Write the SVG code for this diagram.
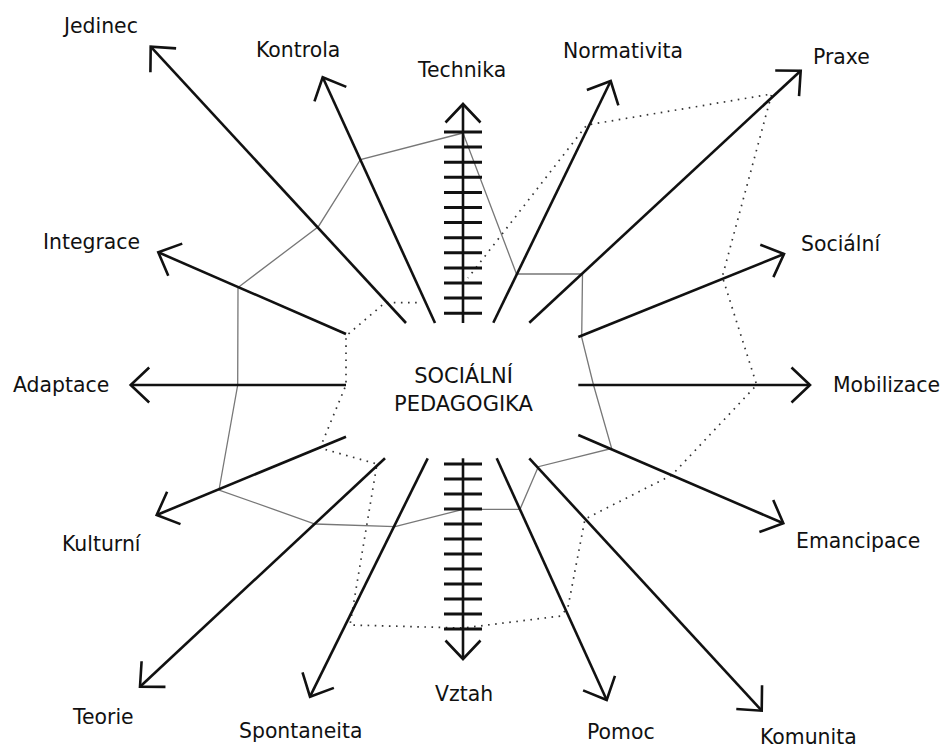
<svg xmlns="http://www.w3.org/2000/svg" width="941" height="751" viewBox="0 0 941 751">
<style>
text{font-family:"DejaVu Sans","Verdana",sans-serif;font-size:20.4px;fill:#111}
.ax{stroke:#111;stroke-width:2.6;fill:none;marker-end:url(#arr)}
.tk{stroke:#111;stroke-width:3}
.gp{stroke:#777;stroke-width:1.3;fill:none}
.dp{stroke:#333;stroke-width:1.7;fill:none;stroke-dasharray:1.6 5.5}
</style>
<defs>
<marker id="arr" markerUnits="userSpaceOnUse" markerWidth="50" markerHeight="50" viewBox="-30 -25 50 50" refX="0" refY="0" orient="auto" overflow="visible">
<path d="M-18.5,-17.5 L0,0 L-18.5,17.5" fill="none" stroke="#111" stroke-width="2.6"/>
</marker>
</defs>
<rect width="941" height="751" fill="#fff"/>
<g id="profiles">
<polygon class="gp" points="463,133 360.5,159.5 318.3,226.7 238,287.5 237.7,385 219,490 315,524 395,526.7 463,509.3 520,509.3 538.3,466.7 611.7,448.5 593.5,385 581.7,337.5 582.5,274 516.5,274"/>
<polyline class="dp" points="416.7,302.7 385,302.7 346,336 346,385 320,448 377,464 350,625 463,628 561,616 568,607 585,519 672,475 756.7,385 722.3,276.7 771.7,94 586.7,125 468,278"/>
</g>
<g id="connectors">
<line class="ax" x1="463" y1="323" x2="463" y2="104"/>
<line class="ax" x1="435" y1="323" x2="322.7" y2="77.3"/>
<line class="ax" x1="406" y1="323" x2="150.7" y2="46.7"/>
<line class="ax" x1="346" y1="334" x2="158.3" y2="252.3"/>
<line class="ax" x1="346" y1="385" x2="130.7" y2="385"/>
<line class="ax" x1="346" y1="436.7" x2="156.7" y2="515"/>
<line class="ax" x1="385" y1="458.3" x2="140" y2="686.7"/>
<line class="ax" x1="427.7" y1="458.3" x2="310" y2="696.7"/>
<line class="ax" x1="463" y1="458.3" x2="463" y2="659"/>
<line class="ax" x1="496.7" y1="458.3" x2="606.7" y2="700"/>
<line class="ax" x1="529.3" y1="458.3" x2="761.7" y2="710.7"/>
<line class="ax" x1="578.3" y1="435" x2="783.3" y2="523.3"/>
<line class="ax" x1="578.3" y1="385" x2="810" y2="385"/>
<line class="ax" x1="578.3" y1="337" x2="784" y2="254"/>
<line class="ax" x1="529.3" y1="322.7" x2="800.7" y2="70.7"/>
<line class="ax" x1="493.3" y1="322.7" x2="610.7" y2="81"/>
<g id="ticks-top">
<line class="tk" x1="444" y1="132" x2="482" y2="132"/>
<line class="tk" x1="444" y1="147.1" x2="482" y2="147.1"/>
<line class="tk" x1="444" y1="162.2" x2="482" y2="162.2"/>
<line class="tk" x1="444" y1="177.3" x2="482" y2="177.3"/>
<line class="tk" x1="444" y1="192.4" x2="482" y2="192.4"/>
<line class="tk" x1="444" y1="207.5" x2="482" y2="207.5"/>
<line class="tk" x1="444" y1="222.6" x2="482" y2="222.6"/>
<line class="tk" x1="444" y1="237.7" x2="482" y2="237.7"/>
<line class="tk" x1="444" y1="252.8" x2="482" y2="252.8"/>
<line class="tk" x1="444" y1="267.9" x2="482" y2="267.9"/>
<line class="tk" x1="444" y1="283" x2="482" y2="283"/>
<line class="tk" x1="444" y1="298.1" x2="482" y2="298.1"/>
<line class="tk" x1="444" y1="313.2" x2="482" y2="313.2"/>
</g>
<g id="ticks-bottom">
<line class="tk" x1="444" y1="464" x2="482" y2="464"/>
<line class="tk" x1="444" y1="479" x2="482" y2="479"/>
<line class="tk" x1="444" y1="494" x2="482" y2="494"/>
<line class="tk" x1="444" y1="509" x2="482" y2="509"/>
<line class="tk" x1="444" y1="524" x2="482" y2="524"/>
<line class="tk" x1="444" y1="539" x2="482" y2="539"/>
<line class="tk" x1="444" y1="554" x2="482" y2="554"/>
<line class="tk" x1="444" y1="569" x2="482" y2="569"/>
<line class="tk" x1="444" y1="584" x2="482" y2="584"/>
<line class="tk" x1="444" y1="599" x2="482" y2="599"/>
<line class="tk" x1="444" y1="614" x2="482" y2="614"/>
<line class="tk" x1="444" y1="629" x2="482" y2="629"/>
</g>
</g>
<g id="center"><text x="463.5" y="383" text-anchor="middle" style="font-size:21px">SOCIÁLNÍ</text><text x="463.5" y="411" text-anchor="middle" style="font-size:21px">PEDAGOGIKA</text></g>
<g id="jedinec"><text x="64" y="33">Jedinec</text></g>
<g id="kontrola"><text x="256" y="57">Kontrola</text></g>
<g id="technika"><text x="418" y="77">Technika</text></g>
<g id="normativita"><text x="563" y="58">Normativita</text></g>
<g id="praxe"><text x="813" y="64">Praxe</text></g>
<g id="socialni"><text x="801" y="251">Sociální</text></g>
<g id="mobilizace"><text x="833" y="392">Mobilizace</text></g>
<g id="emancipace"><text x="796" y="548">Emancipace</text></g>
<g id="komunita"><text x="760" y="744">Komunita</text></g>
<g id="pomoc"><text x="587" y="739">Pomoc</text></g>
<g id="vztah"><text x="435" y="701">Vztah</text></g>
<g id="spontaneita"><text x="239" y="738">Spontaneita</text></g>
<g id="teorie"><text x="73" y="724">Teorie</text></g>
<g id="kulturni"><text x="62" y="551">Kulturní</text></g>
<g id="adaptace"><text x="13" y="392">Adaptace</text></g>
<g id="integrace"><text x="43" y="249">Integrace</text></g>
</svg>
